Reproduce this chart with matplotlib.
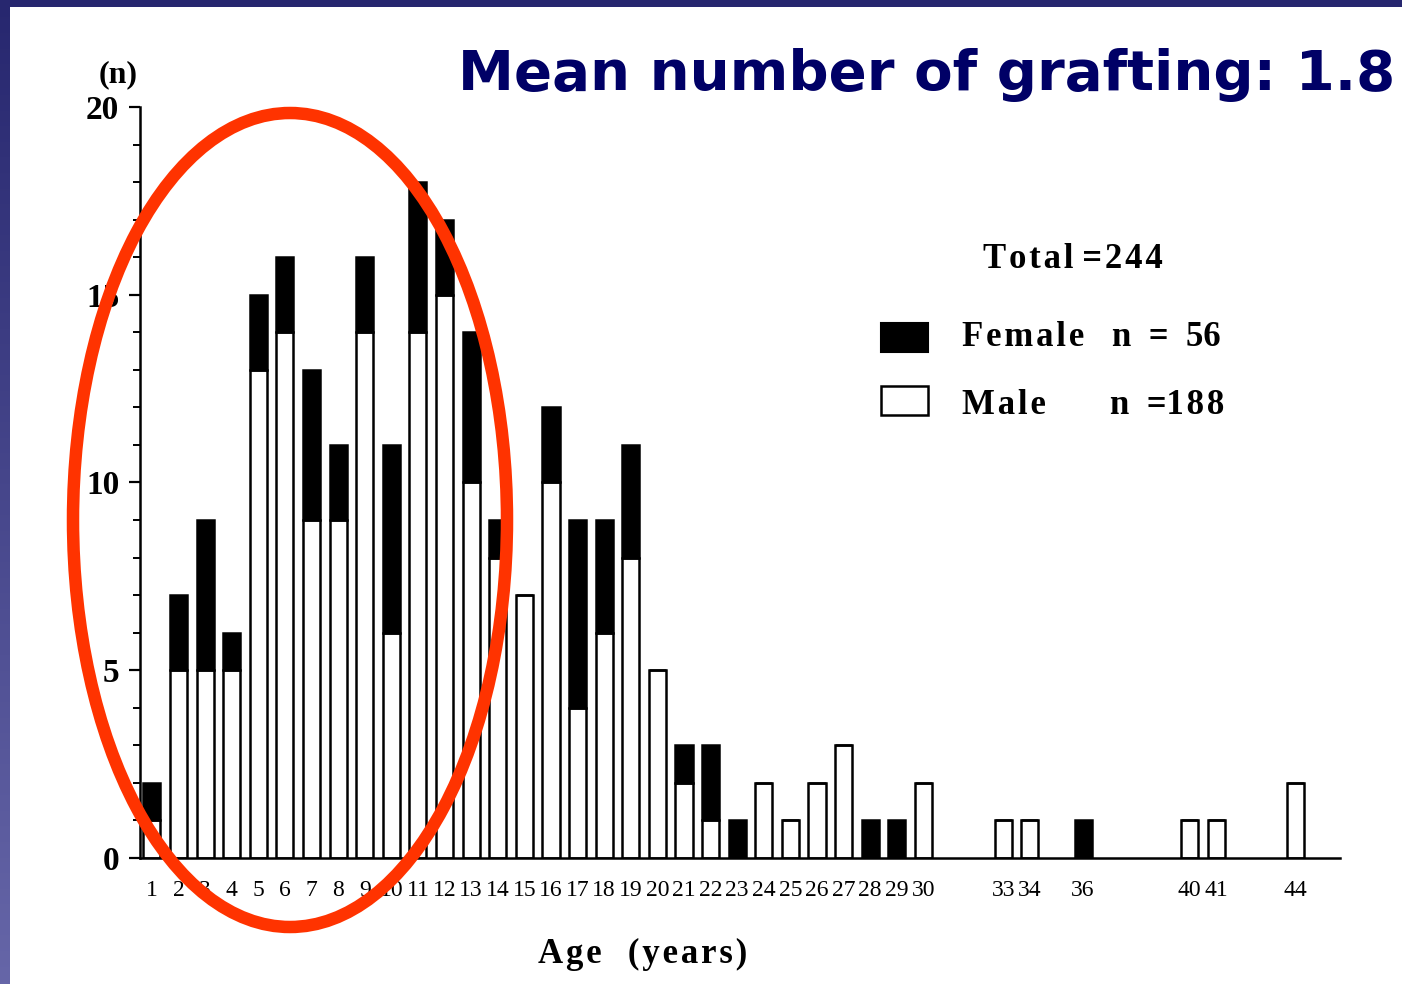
import numpy as np
import matplotlib.pyplot as plt
from matplotlib.patches import Rectangle, Ellipse

# age groups (years) and counts
ages = [1, 2, 3, 4, 5, 6, 7, 8, 9, 10, 11, 12, 13, 14, 15, 16, 17, 18, 19, 20,
        21, 22, 23, 24, 25, 26, 27, 28, 29, 30, 33, 34, 36, 40, 41, 44]
male = [1, 5, 5, 5, 13, 14, 9, 9, 14, 6, 14, 15, 10, 8, 7, 10, 4, 6, 8, 5,
        2, 1, 0, 2, 1, 2, 3, 0, 0, 2, 1, 1, 0, 1, 1, 2]
female = [1, 2, 4, 1, 2, 2, 4, 2, 2, 5, 4, 2, 4, 1, 0, 2, 5, 3, 3, 0,
          1, 2, 1, 0, 0, 0, 0, 1, 1, 0, 0, 0, 1, 0, 0, 0]
yticks = [0, 5, 10, 15, 20]

title = "Mean number of grafting: 1.8"
navy = "#000066"
serif = ["Liberation Serif", "DejaVu Serif"]


def spaced(s):
    # the scanned figure uses letter-spaced bold type
    return "\u200a".join(s)


W, H = 1402, 984
fig = plt.figure(figsize=(W / 100, H / 100), dpi=100)
fig.patch.set_facecolor("white")

# slide overlay in pixel coordinates
ov = fig.add_axes([0, 0, 1, 1], zorder=5)
ov.axis("off")
ov.patch.set_alpha(0)

# slide frame: top band and left gradient band
ov.add_patch(Rectangle((0, 0), W, 7, color="#27276f", lw=0))
grad = np.linspace(0, 1, 256)[:, None]
c0 = np.array([0x27, 0x27, 0x6f]) / 255
c1 = np.array([0x66, 0x66, 0xa8]) / 255
img = c0[None, None, :] * (1 - grad[:, :, None]) + c1[None, None, :] * grad[:, :, None]
ov.imshow(img, extent=(0, 10, H, 0), aspect="auto", interpolation="bilinear")
ov.set_xlim(0, W)
ov.set_ylim(H, 0)

ov.text(1395, 75, title, color=navy, fontsize=40.5, fontweight="bold",
        ha="right", va="center", family="DejaVu Sans")

# chart
ax = fig.add_axes([140 / W, 126 / H, 1200 / W, 751 / H])
x = np.array(ages)
ax.bar(x, male, width=0.64, color="white", edgecolor="black", lw=1.8, zorder=2)
ax.bar(x, female, bottom=male, width=0.64, color="black", edgecolor="black",
       lw=1.8, zorder=2)

ax.set_xlim(0.55, 45.66)
ax.set_ylim(0, 20)
for s in ["top", "right"]:
    ax.spines[s].set_visible(False)
ax.spines["left"].set_linewidth(1.8)
ax.spines["bottom"].set_linewidth(1.8)

ax.set_yticks(yticks)
ax.set_yticks(range(0, 21), minor=True)
ax.set_yticklabels([str(v) for v in yticks], fontsize=24, fontweight="bold",
                   family=serif)
ax.tick_params(axis="y", which="major", length=8, width=1.6, pad=7)
ax.tick_params(axis="y", which="minor", length=5, width=1.4)

ax.set_xticks(ages)
ax.set_xticklabels([str(a) for a in ages], fontsize=17, family=serif)
ax.tick_params(axis="x", length=0, pad=16)

ax.set_xlabel(spaced("Age") + "   " + spaced("(years)"), fontsize=25,
              fontweight="bold", family=serif)
ax.xaxis.set_label_coords((643 - 140) / 1200, -(938 - 858) / 751)

ov.text(118, 75, "(n)", fontsize=23, fontweight="bold", family=serif,
        ha="center", va="center")

# legend block
ov.text(1073, 260, spaced("Total") + " " + spaced("=244"), fontsize=25,
        fontweight="bold", family=serif, ha="center", va="center")
ov.add_patch(Rectangle((881, 323), 47, 29, facecolor="black", edgecolor="black", lw=1.5))
ov.add_patch(Rectangle((881, 386), 47, 29, facecolor="white", edgecolor="black", lw=1.8))
ov.text(962, 338, spaced("Female"), fontsize=25, fontweight="bold", family=serif, va="center")
ov.text(1112, 338, "n  =  56", fontsize=25, fontweight="bold", family=serif, va="center")
ov.text(962, 405, spaced("Male"), fontsize=25, fontweight="bold", family=serif, va="center")
ov.text(1110, 405, "n  =" + spaced("188"), fontsize=25, fontweight="bold", family=serif,
        va="center")

# red highlight ellipse
ov.add_patch(Ellipse((290, 520), 434, 814, fill=False, edgecolor="#ff3300", lw=9))

fig.savefig("out.png", dpi=100)
